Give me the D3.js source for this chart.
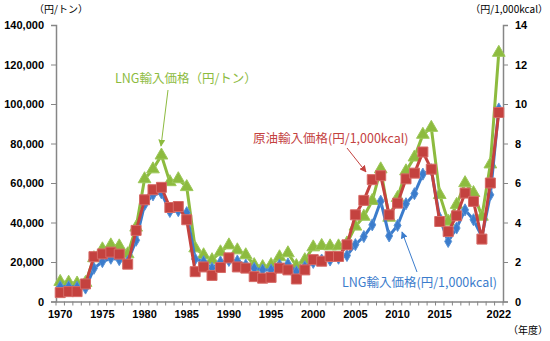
<!DOCTYPE html>
<html>
<head>
<meta charset="utf-8">
<script src="https://cdn.jsdelivr.net/npm/d3@7"></script>
<style>
  body { margin: 0; background: #fff; }
  text { font-family: "Liberation Sans", "Noto Sans CJK JP", sans-serif; }
  .jp { font-family: "Noto Sans CJK JP", sans-serif; }
</style>
</head>
<body>
<div id="chart"></div>
<script>
// fiscal years on the category axis
const years = [1970, 1971, 1972, 1973, 1974, 1975, 1976, 1977, 1978, 1979,
  1980, 1981, 1982, 1983, 1984, 1985, 1986, 1987, 1988, 1989,
  1990, 1991, 1992, 1993, 1994, 1995, 1996, 1997, 1998, 1999,
  2000, 2001, 2002, 2003, 2004, 2005, 2006, 2007, 2008, 2009,
  2010, 2011, 2012, 2013, 2014, 2015, 2016, 2017, 2018, 2019,
  2020, 2021, 2022];
const yearLabels = [1970, 1975, 1980, 1985, 1990, 1995, 2000, 2005, 2010, 2015, 2022];

// LNG import price, yen per ton (left axis)
const lngPerTon = [10000, 9600, 9200, 9500, 22000, 26500, 28500, 28000, 24000, 37500,
  62000, 67000, 74000, 60500, 62000, 58000, 27000, 23500, 21000, 25000,
  28500, 26000, 23500, 18500, 17500, 18500, 22500, 24500, 18000, 21000,
  27500, 28200, 28000, 28000, 29500, 38000, 43000, 51000, 67000, 42500,
  52500, 66000, 73000, 84500, 88000, 54000, 40500, 49000, 60000, 55000,
  43000, 69500, 126000];

// LNG import price, yen per 1,000kcal (right axis)
const lngPerKcal = [0.75, 0.75, 0.72, 0.68, 1.68, 2.02, 2.19, 2.12, 2.02, 3.1,
  4.9, 5.4, 5.5, 4.56, 4.6, 4.5, 2.15, 2.02, 1.68, 2.0,
  2.08, 2.05, 1.85, 1.68, 1.6, 1.6, 1.85, 1.9, 1.51, 1.76,
  1.98, 2.1, 2.1, 2.19, 2.33, 2.88, 3.29, 3.88, 5.08, 3.32,
  3.85, 4.95, 5.46, 6.45, 6.67, 4.22, 3.04, 3.72, 4.64, 4.14,
  3.29, 5.4, 9.75];

// crude oil import price, yen per 1,000kcal (right axis)
const crudePerKcal = [0.45, 0.5, 0.5, 0.89, 2.27, 2.41, 2.5, 2.4, 1.89, 3.6,
  5.15, 5.66, 5.78, 4.76, 4.81, 4.14, 1.51, 1.75, 1.32, 1.72,
  2.21, 1.75, 1.69, 1.26, 1.18, 1.22, 1.69, 1.6, 1.14, 1.6,
  2.12, 2.04, 2.28, 2.28, 2.87, 4.39, 5.12, 6.17, 6.37, 4.39,
  4.98, 6.21, 6.5, 7.57, 6.7, 4.05, 3.54, 4.34, 5.49, 5.07,
  3.16, 6.0, 9.57];

const leftTicks = [0, 20000, 40000, 60000, 80000, 100000, 120000, 140000];
const rightTicks = [0, 2, 4, 6, 8, 10, 12, 14];

const W = 550, H = 341;
const plot = { left: 56, right: 503, top: 25, bottom: 301.5 };

const svg = d3.select("#chart").append("svg")
  .attr("width", W)
  .attr("height", H);

// scales
const x = d3.scaleBand()
  .domain(years)
  .range([plot.left, plot.right])
  .padding(0);
const cx = d => x(d) + x.bandwidth() / 2;

const yLeft = d3.scaleLinear().domain([0, 140000]).range([plot.bottom, plot.top]);
const yRight = d3.scaleLinear().domain([0, 14]).range([plot.bottom, plot.top]);

const axisColor = "#868686";

// left axis
const gL = svg.append("g")
  .attr("transform", `translate(${plot.left},0)`)
  .call(d3.axisLeft(yLeft).tickValues(leftTicks).tickSize(5).tickPadding(7)
    .tickFormat(d3.format(",")));
// right axis
const gR = svg.append("g")
  .attr("transform", `translate(${plot.right},0)`)
  .call(d3.axisRight(yRight).tickValues(rightTicks).tickSize(5).tickPadding(7));
// bottom axis - ticks at category boundaries like Excel
const gB = svg.append("g")
  .attr("transform", `translate(0,${plot.bottom})`)
  .call(d3.axisBottom(x).tickSize(0).tickPadding(9)
    .tickFormat(d => yearLabels.includes(d) ? d : ""));
gB.selectAll(".tick")
  .filter(d => !yearLabels.includes(d))
  .remove();
gB.selectAll(".boundary")
  .data(years.concat([null]))
  .enter()
  .append("line")
  .attr("class", "boundary")
  .attr("x1", (d, i) => plot.left + i * x.bandwidth())
  .attr("x2", (d, i) => plot.left + i * x.bandwidth())
  .attr("y1", 0)
  .attr("y2", 4)
  .attr("stroke", axisColor);

[gL, gR, gB].forEach(g => {
  g.selectAll(".domain").attr("stroke", axisColor).attr("stroke-width", 1.5);
  g.selectAll(".tick line").attr("stroke", axisColor);
  g.selectAll("text")
    .attr("fill", "#000")
    .style("font-size", "11px")
    .style("font-weight", "bold")
    .style("font-family", "'Liberation Sans', Arial, sans-serif");
});

// series
const series = [
  { name: "lngTon", values: lngPerTon, y: yLeft, color: "#8dbb3f", stroke: "#9dc85a",
    symbol: d3.symbolTriangle, size: 70 },
  { name: "lngKcal", values: lngPerKcal, y: yRight, color: "#3b7ccc", stroke: "#5a93d6",
    symbol: d3.symbolDiamond, size: 42 },
  { name: "crude", values: crudePerKcal, y: yRight, color: "#c4423f", stroke: "#d66a66",
    symbol: d3.symbolSquare, size: 100 }
];

series.forEach(s => {
  const pts = years.map((yr, i) => ({ yr, v: s.values[i] }));
  const line = d3.line()
    .x(d => cx(d.yr))
    .y(d => s.y(d.v));
  svg.append("path")
    .datum(pts)
    .attr("fill", "none")
    .attr("stroke", s.color)
    .attr("stroke-width", 3)
    .attr("stroke-linejoin", "round")
    .attr("d", line);
  svg.selectAll(".m-" + s.name)
    .data(pts)
    .enter()
    .append("path")
    .attr("class", "m-" + s.name)
    .attr("d", d3.symbol().type(s.symbol).size(s.size))
    .attr("transform", d => `translate(${cx(d.yr)},${s.y(d.v)})`)
    .attr("fill", s.color)
    .attr("stroke", s.stroke)
    .attr("stroke-width", 1);
});

// axis unit titles
const unitStyle = t => t.attr("class", "jp").style("font-size", "10px").attr("fill", "#000");
svg.append("text").attr("x", 34).attr("y", 13).text("（円/トン）").call(unitStyle);
svg.append("text").attr("x", 548).attr("y", 13).attr("text-anchor", "end")
  .text("（円/1,000kcal）").call(unitStyle);
svg.append("text").attr("x", 548).attr("y", 334).attr("text-anchor", "end")
  .text("（年度）").call(unitStyle);

// arrowheads
const defs = svg.append("defs");
[["g", "#8dbb3f"], ["r", "#c4423f"], ["b", "#3b7ccc"]].forEach(([id, c]) => {
  defs.append("marker")
    .attr("id", "arr-" + id)
    .attr("viewBox", "0 0 10 10")
    .attr("refX", 9).attr("refY", 5)
    .attr("markerWidth", 7).attr("markerHeight", 7)
    .attr("orient", "auto")
    .append("path")
    .attr("d", "M0,0 L10,5 L0,10 z")
    .attr("fill", c);
});

// callouts
const callouts = [
  { text: "LNG輸入価格（円/トン）", tx: 115, ty: 83, color: "#8dbb3f", id: "g",
    from: [168, 90], to: [161, 146] },
  { text: "原油輸入価格(円/1,000kcal)", tx: 253, ty: 143, color: "#c4423f", id: "r",
    from: [347, 148], to: [366, 172] },
  { text: "LNG輸入価格(円/1,000kcal)", tx: 342, ty: 287, color: "#3b7ccc", id: "b",
    from: [417, 272], to: [402, 232] }
];
callouts.forEach(c => {
  svg.append("line")
    .attr("x1", c.from[0]).attr("y1", c.from[1])
    .attr("x2", c.to[0]).attr("y2", c.to[1])
    .attr("stroke", c.color)
    .attr("stroke-width", 1)
    .attr("marker-end", `url(#arr-${c.id})`);
  svg.append("text")
    .attr("class", "jp")
    .attr("x", c.tx).attr("y", c.ty)
    .attr("fill", c.color)
    .style("font-size", "12.5px")
    .text(c.text);
});
</script>
</body>
</html>
